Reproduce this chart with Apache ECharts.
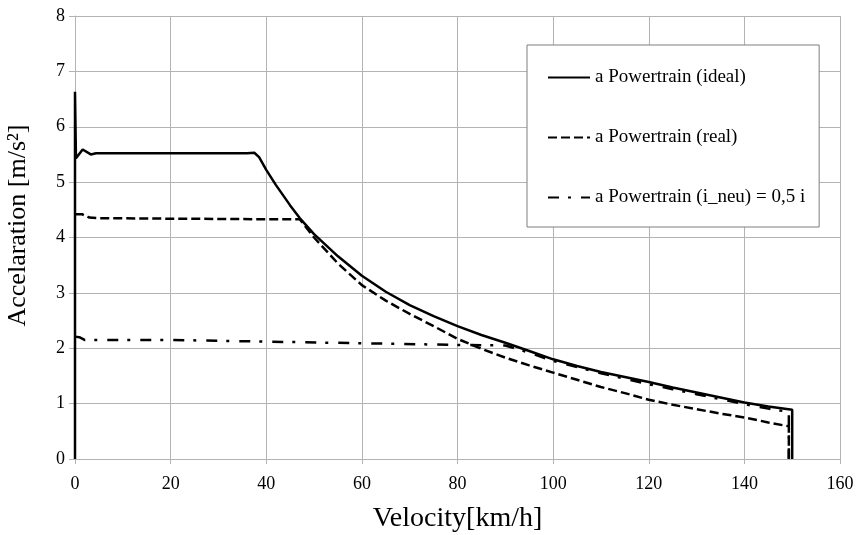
<!DOCTYPE html>
<html>
<head>
<meta charset="utf-8">
<script src="https://cdn.jsdelivr.net/npm/echarts@6/dist/echarts.min.js"></script>
<style>
  html, body { margin: 0; padding: 0; background: #fff; }
  #chart { width: 860px; height: 535px; }
</style>
</head>
<body>
<div id="chart"></div>
<script>
  // a Powertrain (ideal)
  var idealV = [0, 0, 0.2, 1.6, 3.3, 4.4, 10, 20, 30, 36, 37.5, 38.5, 40, 42, 45, 47, 50, 55, 60, 65, 70, 75, 80, 85, 90, 95, 100, 105, 110, 115, 120, 125, 130, 135, 140, 145, 150, 150];
  var idealA = [0, 6.63, 5.43, 5.59, 5.50, 5.52, 5.52, 5.52, 5.52, 5.52, 5.53, 5.45, 5.22, 4.95, 4.58, 4.35, 4.06, 3.66, 3.31, 3.02, 2.78, 2.58, 2.40, 2.24, 2.10, 1.95, 1.80, 1.68, 1.57, 1.48, 1.39, 1.29, 1.20, 1.11, 1.02, 0.95, 0.89, 0];
  // a Powertrain (real)
  var realV = [0, 1.5, 3, 5, 20, 40, 47, 50, 55, 60, 65, 70, 75, 80, 85, 90, 95, 100, 105, 110, 115, 120, 125, 130, 135, 140, 145, 149.3, 149.3];
  var realA = [4.42, 4.42, 4.36, 4.35, 4.34, 4.33, 4.33, 4.00, 3.53, 3.14, 2.86, 2.62, 2.40, 2.17, 1.99, 1.83, 1.69, 1.56, 1.43, 1.30, 1.19, 1.07, 0.98, 0.90, 0.82, 0.75, 0.66, 0.59, 0];
  // a Powertrain (i_neu) = 0,5 i
  var neuV = [0, 0.9, 2, 10, 20, 40, 60, 80, 90, 95, 100, 105, 110, 115, 120, 125, 130, 135, 140, 145, 149.3, 149.3];
  var neuA = [2.21, 2.20, 2.15, 2.15, 2.15, 2.12, 2.09, 2.06, 2.05, 1.92, 1.77, 1.66, 1.55, 1.45, 1.35, 1.26, 1.17, 1.08, 0.99, 0.91, 0.85, 0];

  var xTicks = [0, 20, 40, 60, 80, 100, 120, 140, 160];
  var yTicks = [0, 1, 2, 3, 4, 5, 6, 7, 8];

  function pairs(xs, ys) {
    return xs.map(function (x, i) { return [x, ys[i]]; });
  }

  var font = '"Liberation Serif", "Times New Roman", serif';
  var gridColor = '#b3b3b3';

  var chart = echarts.init(document.getElementById('chart'));
  chart.setOption({
    backgroundColor: '#ffffff',
    animation: false,
    grid: { left: 75, right: 20, top: 16, bottom: 76, containLabel: false, outerBoundsMode: 'none' },
    legend: {
      left: 527,
      top: 45,
      orient: 'vertical',
      itemWidth: 42,
      itemHeight: 14,
      itemGap: 41,
      padding: [23, 14, 20, 20],
      borderColor: '#7f7f7f',
      borderWidth: 1,
      backgroundColor: '#ffffff',
      itemStyle: { opacity: 0 },
      textStyle: { fontFamily: font, fontSize: 19, color: '#000' },
      data: ['a Powertrain (ideal)', 'a Powertrain (real)', 'a Powertrain (i_neu) = 0,5 i']
    },
    xAxis: {
      type: 'value',
      min: xTicks[0],
      max: xTicks[xTicks.length - 1],
      interval: 20,
      name: 'Velocity[km/h]',
      nameLocation: 'middle',
      nameGap: 46,
      nameTextStyle: { fontFamily: font, fontSize: 28, color: '#000' },
      axisLine: { show: true, lineStyle: { color: gridColor, width: 1 } },
      axisTick: { show: true, length: 5, lineStyle: { color: gridColor } },
      axisLabel: { fontFamily: font, fontSize: 18, color: '#000', margin: 16 },
      splitLine: { show: true, lineStyle: { color: gridColor, width: 1 } }
    },
    yAxis: {
      type: 'value',
      min: yTicks[0],
      max: yTicks[yTicks.length - 1],
      interval: 1,
      name: 'Accelaration [m/s²]',
      nameLocation: 'middle',
      nameGap: 44,
      nameTextStyle: { fontFamily: font, fontSize: 26, color: '#000', padding: [0, 0, 0, 24] },
      axisLine: { show: true, lineStyle: { color: gridColor, width: 1 } },
      axisTick: { show: true, length: 6, lineStyle: { color: gridColor } },
      axisLabel: { fontFamily: font, fontSize: 18, color: '#000', margin: 10 },
      splitLine: { show: true, lineStyle: { color: gridColor, width: 1 } }
    },
    series: [
      {
        name: 'a Powertrain (i_neu) = 0,5 i',
        type: 'line',
        showSymbol: false,
        symbol: 'none',
        z: 3,
        lineStyle: { color: '#000', width: 2.5, type: [11, 9, 3, 10] },
        itemStyle: { color: '#000' },
        data: pairs(neuV, neuA)
      },
      {
        name: 'a Powertrain (real)',
        type: 'line',
        showSymbol: false,
        symbol: 'none',
        z: 4,
        lineStyle: { color: '#000', width: 2.5, type: [9, 4] },
        itemStyle: { color: '#000' },
        data: pairs(realV, realA)
      },
      {
        name: 'a Powertrain (ideal)',
        type: 'line',
        showSymbol: false,
        symbol: 'none',
        z: 5,
        lineStyle: { color: '#000', width: 2.5 },
        itemStyle: { color: '#000' },
        data: pairs(idealV, idealA)
      }
    ]
  });
</script>
</body>
</html>
